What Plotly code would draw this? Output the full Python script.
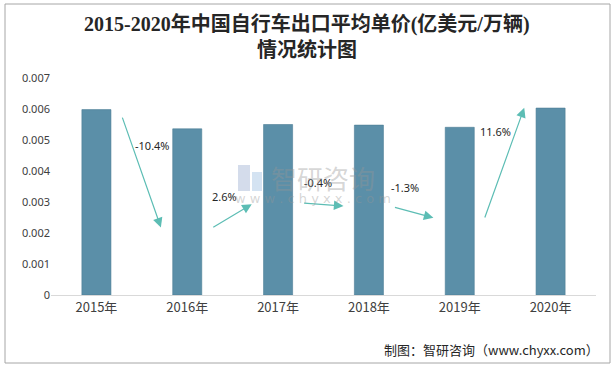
import plotly.graph_objects as go

# ---- data ----
years = ["2015年", "2016年", "2017年", "2018年", "2019年", "2020年"]
unit_price = [0.00598, 0.00536, 0.00550, 0.00548, 0.00541, 0.00603]
growth_labels = ["-10.4%", "2.6%", "-0.4%", "-1.3%", "11.6%"]
y_tick_vals = [0, 0.001, 0.002, 0.003, 0.004, 0.005, 0.006, 0.007]
y_tick_text = ["0", "0.001", "0.002", "0.003", "0.004", "0.005", "0.006", "0.007"]

title_lines = ["2015-2020年中国自行车出口平均单价(亿美元/万辆)", "情况统计图"]
source_text = "制图：智研咨询（www.chyxx.com）"

# ---- layout helpers (positions of the decorative arrows, in axis units) ----
arrow_x = [(0.28, 0.71), (1.27, 1.71), (2.27, 2.72), (3.27, 3.71), (4.27, 4.71)]
arrow_y = [(0.00577, 0.00218), (0.00216, 0.00293), (0.00297, 0.00287),
           (0.00284, 0.00249), (0.00245, 0.00604)]
label_pos = [(0.62, 0.00481), (1.41, 0.00319), (2.44, 0.00364),
             (3.40, 0.00348), (4.39, 0.00529)]

W, H = 615, 368
L, R, T, B = 51, 19, 78, 73
pw, ph = W - L - R, H - T - B

def px(x):
    return (x - L) / pw

def py(y):
    return (H - B - y) / ph

fig = go.Figure()
fig.add_trace(go.Bar(
    x=list(range(len(years))), y=unit_price,
    marker=dict(color="#5B8FA8", line=dict(color="#4E7E95", width=0.6)),
    width=0.32, hoverinfo="x+y",
))

annotations = []
arrow_color = "#5CBDB4"
for (x0, x1), (y0, y1) in zip(arrow_x, arrow_y):
    annotations.append(dict(
        x=x1, y=y1, ax=x0, ay=y0, xref="x", yref="y", axref="x", ayref="y",
        showarrow=True, arrowhead=2, arrowsize=1.6, arrowwidth=1.2,
        arrowcolor=arrow_color, text="",
    ))
for (lx, ly), txt in zip(label_pos, growth_labels):
    annotations.append(dict(
        x=lx, y=ly, xref="x", yref="y", text=txt, showarrow=False,
        font=dict(size=11, color="#262626", family="Noto Sans, Noto Sans CJK SC"),
    ))

# title (two lines)
for line, cy in zip(title_lines, [24, 50]):
    annotations.append(dict(
        x=px(307), y=py(cy), xref="paper", yref="paper", xanchor="center", yanchor="middle",
        text="<b>" + line + "</b>", showarrow=False,
        font=dict(size=20, color="#262626", family="Liberation Serif, Noto Sans CJK SC"),
    ))

# watermark
annotations.append(dict(
    x=px(323), y=py(177), xref="paper", yref="paper", text="智研咨询", showarrow=False,
    font=dict(size=26, color="rgba(150,150,150,0.40)", family="Noto Sans CJK SC"),
))
annotations.append(dict(
    x=px(313), y=py(198), xref="paper", yref="paper", text="w w w . c h y x x . c o m",
    showarrow=False,
    font=dict(size=13, color="rgba(150,150,150,0.40)", family="DejaVu Sans"),
))
# footer
annotations.append(dict(
    x=px(601), y=py(349), xref="paper", yref="paper", xanchor="right", yanchor="middle",
    text=source_text, showarrow=False,
    font=dict(size=13, color="#262626", family="Noto Sans CJK SC"),
))

shapes = [
    # figure border
    dict(type="rect", xref="paper", yref="paper",
         x0=px(5), x1=px(610), y0=py(363), y1=py(4),
         line=dict(color="#A6A6A6", width=1), fillcolor="rgba(0,0,0,0)", layer="below"),
    # watermark logo blocks
    dict(type="rect", xref="paper", yref="paper",
         x0=px(238), x1=px(250), y0=py(191), y1=py(165),
         line=dict(width=0), fillcolor="rgba(170,185,215,0.5)"),
    dict(type="rect", xref="paper", yref="paper",
         x0=px(252), x1=px(262), y0=py(191), y1=py(172),
         line=dict(width=0), fillcolor="rgba(170,200,230,0.5)"),
]

fig.update_layout(
    width=W, height=H,
    margin=dict(l=L, r=R, t=T, b=B),
    paper_bgcolor="white", plot_bgcolor="white",
    showlegend=False,
    bargap=0.68,
    xaxis=dict(
        tickmode="array", tickvals=list(range(len(years))), ticktext=years,
        range=[-0.5, len(years) - 0.5],
        showline=True, linecolor="#D9D9D9", linewidth=1,
        showgrid=False, zeroline=False, ticks="",
        tickfont=dict(size=13, color="#404040", family="Noto Sans CJK SC"),
    ),
    yaxis=dict(
        range=[0, 0.007], tickmode="array", tickvals=y_tick_vals, ticktext=y_tick_text,
        showgrid=False, zeroline=False, showline=False, ticks="",
        tickfont=dict(size=11, color="#404040", family="Noto Sans, Noto Sans CJK SC"),
    ),
    annotations=annotations,
    shapes=shapes,
)

fig.write_html("out.html", config={"displayModeBar": False},
               post_script="document.body.style.margin='0';")
